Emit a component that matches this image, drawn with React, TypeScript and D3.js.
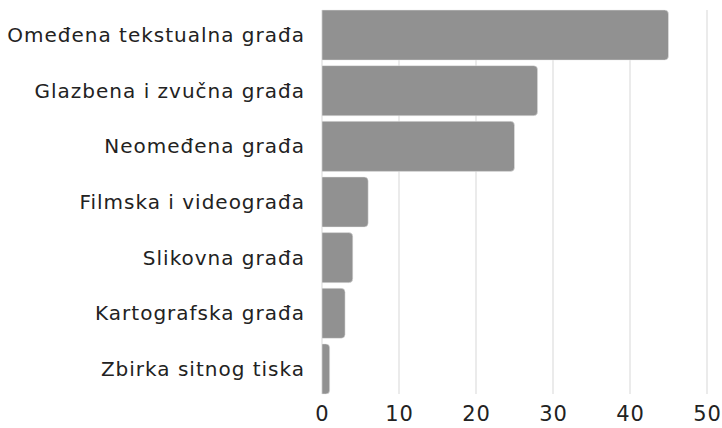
import React from 'react'
import * as d3 from 'd3'

const categories = [
  'Omeđena tekstualna građa',
  'Glazbena i zvučna građa',
  'Neomeđena građa',
  'Filmska i videograđa',
  'Slikovna građa',
  'Kartografska građa',
  'Zbirka sitnog tiska'
]
const values = [45, 28, 25, 6, 4, 3, 1]
const xTicks = [0, 10, 20, 30, 40, 50]

const width = 722
const height = 428
const margin = {top: 10, right: 15, bottom: 34, left: 322}
const font = '"DejaVu Sans", "Open Sans", sans-serif'

// bar with square left edge, rounded right corners
function barPath(x0: number, x1: number, y0: number, h: number, r: number) {
  const rr = Math.min(r, (x1 - x0) / 2)
  return `M${x0},${y0}H${x1 - rr}Q${x1},${y0} ${x1},${y0 + rr}V${y0 + h - rr}Q${x1},${y0 + h} ${x1 - rr},${y0 + h}H${x0}Z`
}

export default function App() {
  const x = d3
    .scaleLinear()
    .domain([0, 50])
    .range([margin.left, width - margin.right])
  const y = d3
    .scaleBand()
    .domain(categories)
    .range([margin.top, height - margin.bottom])
    .paddingInner(0.1)
    .paddingOuter(0)

  return (
    <svg
      width={width}
      height={height}
      style={{position: 'absolute', left: 0, top: 0, fontFamily: font}}
    >
      <rect width={width} height={height} fill="#ffffff" />
      {xTicks.map(t => (
        <line
          key={'g' + t}
          x1={x(t)}
          x2={x(t)}
          y1={margin.top}
          y2={height - margin.bottom}
          stroke="#e5e5e5"
          strokeWidth={1.5}
        />
      ))}
      {categories.map((c, i) => (
        <path
          key={c}
          d={barPath(x(0), x(values[i]), y(c)!, y.bandwidth(), 4)}
          fill="#919191"
          stroke="#e8e8e8"
          strokeWidth={0.5}
        />
      ))}
      {categories.map(c => (
        <text
          key={'l' + c}
          x={margin.left - 17}
          y={y(c)! + y.bandwidth() / 2}
          textAnchor="end"
          dominantBaseline="central"
          fontSize={20}
          letterSpacing={1}
          fill="#222222"
        >
          {c}
        </text>
      ))}
      {xTicks.map(t => (
        <text
          key={'t' + t}
          x={x(t) + 0.5}
          y={414}
          textAnchor="middle"
          dominantBaseline="central"
          fontSize={21}
          letterSpacing={1}
          fill="#222222"
        >
          {t}
        </text>
      ))}
    </svg>
  )
}
